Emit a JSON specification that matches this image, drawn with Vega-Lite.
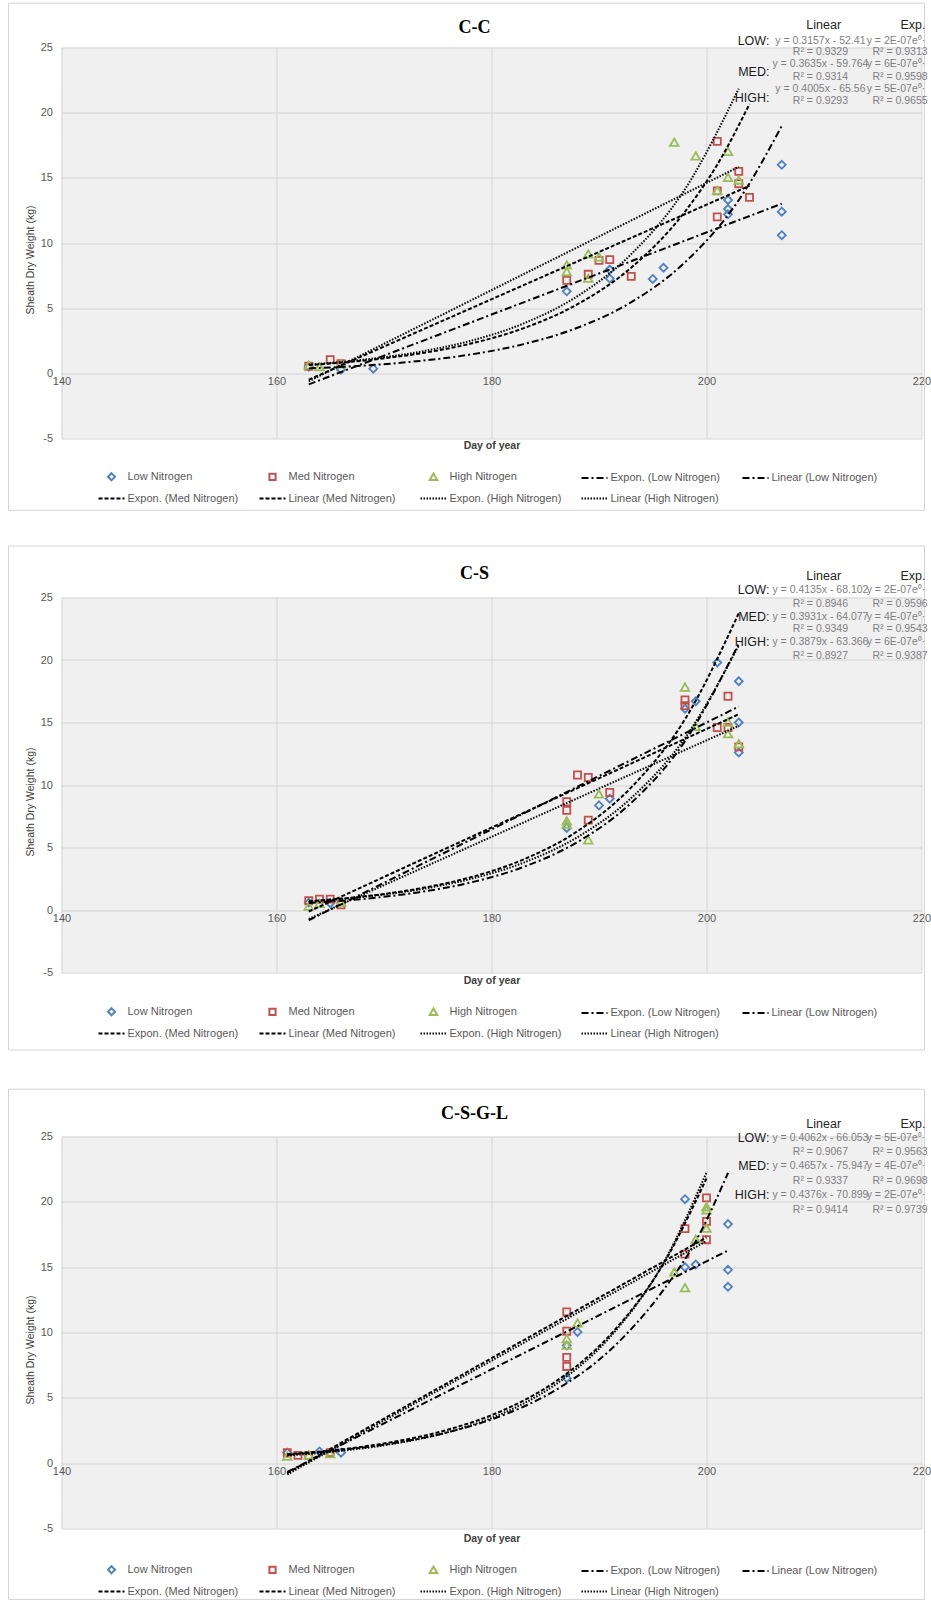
{
  "$schema": "https://vega.github.io/schema/vega-lite/v6.json",
  "padding": {"left": 7.5, "top": 2.5, "right": 0, "bottom": 0},
  "background": "white",
  "datasets": {
    "points": [
      {"panel":"C-C","series":"Low Nitrogen","trend":"Linear (Low Nitrogen)","day":163,"weight":0.5},
      {"panel":"C-C","series":"Low Nitrogen","trend":"Linear (Low Nitrogen)","day":166,"weight":0.28},
      {"panel":"C-C","series":"Low Nitrogen","trend":"Linear (Low Nitrogen)","day":169,"weight":0.36},
      {"panel":"C-C","series":"Low Nitrogen","trend":"Linear (Low Nitrogen)","day":187,"weight":6.29},
      {"panel":"C-C","series":"Low Nitrogen","trend":"Linear (Low Nitrogen)","day":191,"weight":7.96},
      {"panel":"C-C","series":"Low Nitrogen","trend":"Linear (Low Nitrogen)","day":191,"weight":7.27},
      {"panel":"C-C","series":"Low Nitrogen","trend":"Linear (Low Nitrogen)","day":195,"weight":7.24},
      {"panel":"C-C","series":"Low Nitrogen","trend":"Linear (Low Nitrogen)","day":196,"weight":8.1},
      {"panel":"C-C","series":"Low Nitrogen","trend":"Linear (Low Nitrogen)","day":202,"weight":13.3},
      {"panel":"C-C","series":"Low Nitrogen","trend":"Linear (Low Nitrogen)","day":202,"weight":12.6},
      {"panel":"C-C","series":"Low Nitrogen","trend":"Linear (Low Nitrogen)","day":202,"weight":12.2},
      {"panel":"C-C","series":"Low Nitrogen","trend":"Linear (Low Nitrogen)","day":207,"weight":16.0},
      {"panel":"C-C","series":"Low Nitrogen","trend":"Linear (Low Nitrogen)","day":207,"weight":12.4},
      {"panel":"C-C","series":"Low Nitrogen","trend":"Linear (Low Nitrogen)","day":207,"weight":10.6},
      {"panel":"C-C","series":"Med Nitrogen","trend":"Linear (Med Nitrogen)","day":163,"weight":0.54},
      {"panel":"C-C","series":"Med Nitrogen","trend":"Linear (Med Nitrogen)","day":165,"weight":1.05},
      {"panel":"C-C","series":"Med Nitrogen","trend":"Linear (Med Nitrogen)","day":166,"weight":0.74},
      {"panel":"C-C","series":"Med Nitrogen","trend":"Linear (Med Nitrogen)","day":187,"weight":7.14},
      {"panel":"C-C","series":"Med Nitrogen","trend":"Linear (Med Nitrogen)","day":189,"weight":7.6},
      {"panel":"C-C","series":"Med Nitrogen","trend":"Linear (Med Nitrogen)","day":190,"weight":8.67},
      {"panel":"C-C","series":"Med Nitrogen","trend":"Linear (Med Nitrogen)","day":191,"weight":8.72},
      {"panel":"C-C","series":"Med Nitrogen","trend":"Linear (Med Nitrogen)","day":193,"weight":7.44},
      {"panel":"C-C","series":"Med Nitrogen","trend":"Linear (Med Nitrogen)","day":201,"weight":17.8},
      {"panel":"C-C","series":"Med Nitrogen","trend":"Linear (Med Nitrogen)","day":201,"weight":14.0},
      {"panel":"C-C","series":"Med Nitrogen","trend":"Linear (Med Nitrogen)","day":201,"weight":12.0},
      {"panel":"C-C","series":"Med Nitrogen","trend":"Linear (Med Nitrogen)","day":203,"weight":15.5},
      {"panel":"C-C","series":"Med Nitrogen","trend":"Linear (Med Nitrogen)","day":203,"weight":14.55},
      {"panel":"C-C","series":"Med Nitrogen","trend":"Linear (Med Nitrogen)","day":204,"weight":13.5},
      {"panel":"C-C","series":"High Nitrogen","trend":"Linear (High Nitrogen)","day":163,"weight":0.6},
      {"panel":"C-C","series":"High Nitrogen","trend":"Linear (High Nitrogen)","day":164,"weight":0.48},
      {"panel":"C-C","series":"High Nitrogen","trend":"Linear (High Nitrogen)","day":166,"weight":0.7},
      {"panel":"C-C","series":"High Nitrogen","trend":"Linear (High Nitrogen)","day":187,"weight":8.29},
      {"panel":"C-C","series":"High Nitrogen","trend":"Linear (High Nitrogen)","day":187,"weight":7.78},
      {"panel":"C-C","series":"High Nitrogen","trend":"Linear (High Nitrogen)","day":189,"weight":9.13},
      {"panel":"C-C","series":"High Nitrogen","trend":"Linear (High Nitrogen)","day":189,"weight":7.27},
      {"panel":"C-C","series":"High Nitrogen","trend":"Linear (High Nitrogen)","day":190,"weight":8.9},
      {"panel":"C-C","series":"High Nitrogen","trend":"Linear (High Nitrogen)","day":197,"weight":17.7},
      {"panel":"C-C","series":"High Nitrogen","trend":"Linear (High Nitrogen)","day":199,"weight":16.65},
      {"panel":"C-C","series":"High Nitrogen","trend":"Linear (High Nitrogen)","day":201,"weight":14.0},
      {"panel":"C-C","series":"High Nitrogen","trend":"Linear (High Nitrogen)","day":202,"weight":17.0},
      {"panel":"C-C","series":"High Nitrogen","trend":"Linear (High Nitrogen)","day":202,"weight":15.0},
      {"panel":"C-C","series":"High Nitrogen","trend":"Linear (High Nitrogen)","day":203,"weight":14.8},

      {"panel":"C-S","series":"Low Nitrogen","trend":"Linear (Low Nitrogen)","day":163,"weight":0.6},
      {"panel":"C-S","series":"Low Nitrogen","trend":"Linear (Low Nitrogen)","day":165,"weight":0.55},
      {"panel":"C-S","series":"Low Nitrogen","trend":"Linear (Low Nitrogen)","day":187,"weight":6.57},
      {"panel":"C-S","series":"Low Nitrogen","trend":"Linear (Low Nitrogen)","day":190,"weight":8.37},
      {"panel":"C-S","series":"Low Nitrogen","trend":"Linear (Low Nitrogen)","day":191,"weight":8.9},
      {"panel":"C-S","series":"Low Nitrogen","trend":"Linear (Low Nitrogen)","day":198,"weight":16.1},
      {"panel":"C-S","series":"Low Nitrogen","trend":"Linear (Low Nitrogen)","day":199,"weight":16.7},
      {"panel":"C-S","series":"Low Nitrogen","trend":"Linear (Low Nitrogen)","day":201,"weight":19.8},
      {"panel":"C-S","series":"Low Nitrogen","trend":"Linear (Low Nitrogen)","day":203,"weight":18.3},
      {"panel":"C-S","series":"Low Nitrogen","trend":"Linear (Low Nitrogen)","day":203,"weight":15.0},
      {"panel":"C-S","series":"Low Nitrogen","trend":"Linear (Low Nitrogen)","day":203,"weight":12.6},
      {"panel":"C-S","series":"Med Nitrogen","trend":"Linear (Med Nitrogen)","day":163,"weight":0.74},
      {"panel":"C-S","series":"Med Nitrogen","trend":"Linear (Med Nitrogen)","day":164,"weight":0.87},
      {"panel":"C-S","series":"Med Nitrogen","trend":"Linear (Med Nitrogen)","day":165,"weight":0.87},
      {"panel":"C-S","series":"Med Nitrogen","trend":"Linear (Med Nitrogen)","day":166,"weight":0.42},
      {"panel":"C-S","series":"Med Nitrogen","trend":"Linear (Med Nitrogen)","day":187,"weight":8.66},
      {"panel":"C-S","series":"Med Nitrogen","trend":"Linear (Med Nitrogen)","day":187,"weight":7.97},
      {"panel":"C-S","series":"Med Nitrogen","trend":"Linear (Med Nitrogen)","day":188,"weight":10.8},
      {"panel":"C-S","series":"Med Nitrogen","trend":"Linear (Med Nitrogen)","day":189,"weight":10.6},
      {"panel":"C-S","series":"Med Nitrogen","trend":"Linear (Med Nitrogen)","day":189,"weight":7.19},
      {"panel":"C-S","series":"Med Nitrogen","trend":"Linear (Med Nitrogen)","day":191,"weight":9.4},
      {"panel":"C-S","series":"Med Nitrogen","trend":"Linear (Med Nitrogen)","day":198,"weight":16.8},
      {"panel":"C-S","series":"Med Nitrogen","trend":"Linear (Med Nitrogen)","day":198,"weight":16.35},
      {"panel":"C-S","series":"Med Nitrogen","trend":"Linear (Med Nitrogen)","day":201,"weight":14.6},
      {"panel":"C-S","series":"Med Nitrogen","trend":"Linear (Med Nitrogen)","day":202,"weight":17.1},
      {"panel":"C-S","series":"Med Nitrogen","trend":"Linear (Med Nitrogen)","day":202,"weight":14.6},
      {"panel":"C-S","series":"Med Nitrogen","trend":"Linear (Med Nitrogen)","day":203,"weight":13.05},
      {"panel":"C-S","series":"High Nitrogen","trend":"Linear (High Nitrogen)","day":163,"weight":0.28},
      {"panel":"C-S","series":"High Nitrogen","trend":"Linear (High Nitrogen)","day":164,"weight":0.5},
      {"panel":"C-S","series":"High Nitrogen","trend":"Linear (High Nitrogen)","day":166,"weight":0.6},
      {"panel":"C-S","series":"High Nitrogen","trend":"Linear (High Nitrogen)","day":187,"weight":7.1},
      {"panel":"C-S","series":"High Nitrogen","trend":"Linear (High Nitrogen)","day":187,"weight":6.84},
      {"panel":"C-S","series":"High Nitrogen","trend":"Linear (High Nitrogen)","day":189,"weight":5.58},
      {"panel":"C-S","series":"High Nitrogen","trend":"Linear (High Nitrogen)","day":190,"weight":9.25},
      {"panel":"C-S","series":"High Nitrogen","trend":"Linear (High Nitrogen)","day":198,"weight":17.8},
      {"panel":"C-S","series":"High Nitrogen","trend":"Linear (High Nitrogen)","day":199,"weight":14.66},
      {"panel":"C-S","series":"High Nitrogen","trend":"Linear (High Nitrogen)","day":202,"weight":15.0},
      {"panel":"C-S","series":"High Nitrogen","trend":"Linear (High Nitrogen)","day":202,"weight":14.07},
      {"panel":"C-S","series":"High Nitrogen","trend":"Linear (High Nitrogen)","day":203,"weight":13.27},

      {"panel":"C-S-G-L","series":"Low Nitrogen","trend":"Linear (Low Nitrogen)","day":161,"weight":0.8},
      {"panel":"C-S-G-L","series":"Low Nitrogen","trend":"Linear (Low Nitrogen)","day":164,"weight":0.9},
      {"panel":"C-S-G-L","series":"Low Nitrogen","trend":"Linear (Low Nitrogen)","day":166,"weight":0.8},
      {"panel":"C-S-G-L","series":"Low Nitrogen","trend":"Linear (Low Nitrogen)","day":187,"weight":9.0},
      {"panel":"C-S-G-L","series":"Low Nitrogen","trend":"Linear (Low Nitrogen)","day":187,"weight":6.5},
      {"panel":"C-S-G-L","series":"Low Nitrogen","trend":"Linear (Low Nitrogen)","day":188,"weight":10.04},
      {"panel":"C-S-G-L","series":"Low Nitrogen","trend":"Linear (Low Nitrogen)","day":198,"weight":20.2},
      {"panel":"C-S-G-L","series":"Low Nitrogen","trend":"Linear (Low Nitrogen)","day":198,"weight":15.0},
      {"panel":"C-S-G-L","series":"Low Nitrogen","trend":"Linear (Low Nitrogen)","day":199,"weight":15.2},
      {"panel":"C-S-G-L","series":"Low Nitrogen","trend":"Linear (Low Nitrogen)","day":202,"weight":18.3},
      {"panel":"C-S-G-L","series":"Low Nitrogen","trend":"Linear (Low Nitrogen)","day":202,"weight":14.8},
      {"panel":"C-S-G-L","series":"Low Nitrogen","trend":"Linear (Low Nitrogen)","day":202,"weight":13.5},
      {"panel":"C-S-G-L","series":"Med Nitrogen","trend":"Linear (Med Nitrogen)","day":161,"weight":0.8},
      {"panel":"C-S-G-L","series":"Med Nitrogen","trend":"Linear (Med Nitrogen)","day":162,"weight":0.6},
      {"panel":"C-S-G-L","series":"Med Nitrogen","trend":"Linear (Med Nitrogen)","day":163,"weight":0.6},
      {"panel":"C-S-G-L","series":"Med Nitrogen","trend":"Linear (Med Nitrogen)","day":165,"weight":0.8},
      {"panel":"C-S-G-L","series":"Med Nitrogen","trend":"Linear (Med Nitrogen)","day":187,"weight":11.57},
      {"panel":"C-S-G-L","series":"Med Nitrogen","trend":"Linear (Med Nitrogen)","day":187,"weight":10.1},
      {"panel":"C-S-G-L","series":"Med Nitrogen","trend":"Linear (Med Nitrogen)","day":187,"weight":8.1},
      {"panel":"C-S-G-L","series":"Med Nitrogen","trend":"Linear (Med Nitrogen)","day":187,"weight":7.4},
      {"panel":"C-S-G-L","series":"Med Nitrogen","trend":"Linear (Med Nitrogen)","day":198,"weight":17.95},
      {"panel":"C-S-G-L","series":"Med Nitrogen","trend":"Linear (Med Nitrogen)","day":198,"weight":16.0},
      {"panel":"C-S-G-L","series":"Med Nitrogen","trend":"Linear (Med Nitrogen)","day":200,"weight":20.3},
      {"panel":"C-S-G-L","series":"Med Nitrogen","trend":"Linear (Med Nitrogen)","day":200,"weight":18.5},
      {"panel":"C-S-G-L","series":"Med Nitrogen","trend":"Linear (Med Nitrogen)","day":200,"weight":17.1},
      {"panel":"C-S-G-L","series":"High Nitrogen","trend":"Linear (High Nitrogen)","day":161,"weight":0.5},
      {"panel":"C-S-G-L","series":"High Nitrogen","trend":"Linear (High Nitrogen)","day":163,"weight":0.6},
      {"panel":"C-S-G-L","series":"High Nitrogen","trend":"Linear (High Nitrogen)","day":165,"weight":0.7},
      {"panel":"C-S-G-L","series":"High Nitrogen","trend":"Linear (High Nitrogen)","day":187,"weight":9.5},
      {"panel":"C-S-G-L","series":"High Nitrogen","trend":"Linear (High Nitrogen)","day":187,"weight":9.0},
      {"panel":"C-S-G-L","series":"High Nitrogen","trend":"Linear (High Nitrogen)","day":188,"weight":10.7},
      {"panel":"C-S-G-L","series":"High Nitrogen","trend":"Linear (High Nitrogen)","day":197,"weight":14.6},
      {"panel":"C-S-G-L","series":"High Nitrogen","trend":"Linear (High Nitrogen)","day":198,"weight":13.4},
      {"panel":"C-S-G-L","series":"High Nitrogen","trend":"Linear (High Nitrogen)","day":199,"weight":17.1},
      {"panel":"C-S-G-L","series":"High Nitrogen","trend":"Linear (High Nitrogen)","day":200,"weight":19.6},
      {"panel":"C-S-G-L","series":"High Nitrogen","trend":"Linear (High Nitrogen)","day":200,"weight":19.36},
      {"panel":"C-S-G-L","series":"High Nitrogen","trend":"Linear (High Nitrogen)","day":200,"weight":17.95}
    ],
    "expfit": [
      {"panel":"C-C","series":"Expon. (Low Nitrogen)","day":163,"weight":0.378},
      {"panel":"C-C","series":"Expon. (Low Nitrogen)","day":168,"weight":0.59},
      {"panel":"C-C","series":"Expon. (Low Nitrogen)","day":173,"weight":0.921},
      {"panel":"C-C","series":"Expon. (Low Nitrogen)","day":178,"weight":1.437},
      {"panel":"C-C","series":"Expon. (Low Nitrogen)","day":183,"weight":2.242},
      {"panel":"C-C","series":"Expon. (Low Nitrogen)","day":188,"weight":3.498},
      {"panel":"C-C","series":"Expon. (Low Nitrogen)","day":193,"weight":5.459},
      {"panel":"C-C","series":"Expon. (Low Nitrogen)","day":198,"weight":8.519},
      {"panel":"C-C","series":"Expon. (Low Nitrogen)","day":203,"weight":13.29},
      {"panel":"C-C","series":"Expon. (Low Nitrogen)","day":207,"weight":18.98},
      {"panel":"C-C","series":"Expon. (Med Nitrogen)","day":163,"weight":0.633},
      {"panel":"C-C","series":"Expon. (Med Nitrogen)","day":168,"weight":0.969},
      {"panel":"C-C","series":"Expon. (Med Nitrogen)","day":173,"weight":1.482},
      {"panel":"C-C","series":"Expon. (Med Nitrogen)","day":178,"weight":2.266},
      {"panel":"C-C","series":"Expon. (Med Nitrogen)","day":183,"weight":3.466},
      {"panel":"C-C","series":"Expon. (Med Nitrogen)","day":188,"weight":5.302},
      {"panel":"C-C","series":"Expon. (Med Nitrogen)","day":193,"weight":8.11},
      {"panel":"C-C","series":"Expon. (Med Nitrogen)","day":198,"weight":12.41},
      {"panel":"C-C","series":"Expon. (Med Nitrogen)","day":201,"weight":16.01},
      {"panel":"C-C","series":"Expon. (Med Nitrogen)","day":204,"weight":20.66},
      {"panel":"C-C","series":"Expon. (High Nitrogen)","day":163,"weight":0.673},
      {"panel":"C-C","series":"Expon. (High Nitrogen)","day":168,"weight":1.039},
      {"panel":"C-C","series":"Expon. (High Nitrogen)","day":173,"weight":1.606},
      {"panel":"C-C","series":"Expon. (High Nitrogen)","day":178,"weight":2.481},
      {"panel":"C-C","series":"Expon. (High Nitrogen)","day":183,"weight":3.833},
      {"panel":"C-C","series":"Expon. (High Nitrogen)","day":188,"weight":5.921},
      {"panel":"C-C","series":"Expon. (High Nitrogen)","day":193,"weight":9.148},
      {"panel":"C-C","series":"Expon. (High Nitrogen)","day":198,"weight":14.13},
      {"panel":"C-C","series":"Expon. (High Nitrogen)","day":203,"weight":21.84},
      {"panel":"C-S","series":"Expon. (Low Nitrogen)","day":163,"weight":0.559},
      {"panel":"C-S","series":"Expon. (Low Nitrogen)","day":168,"weight":0.881},
      {"panel":"C-S","series":"Expon. (Low Nitrogen)","day":173,"weight":1.389},
      {"panel":"C-S","series":"Expon. (Low Nitrogen)","day":178,"weight":2.189},
      {"panel":"C-S","series":"Expon. (Low Nitrogen)","day":183,"weight":3.451},
      {"panel":"C-S","series":"Expon. (Low Nitrogen)","day":188,"weight":5.439},
      {"panel":"C-S","series":"Expon. (Low Nitrogen)","day":193,"weight":8.573},
      {"panel":"C-S","series":"Expon. (Low Nitrogen)","day":198,"weight":13.51},
      {"panel":"C-S","series":"Expon. (Low Nitrogen)","day":203,"weight":21.3},
      {"panel":"C-S","series":"Expon. (Med Nitrogen)","day":163,"weight":0.692},
      {"panel":"C-S","series":"Expon. (Med Nitrogen)","day":168,"weight":1.076},
      {"panel":"C-S","series":"Expon. (Med Nitrogen)","day":173,"weight":1.674},
      {"panel":"C-S","series":"Expon. (Med Nitrogen)","day":178,"weight":2.604},
      {"panel":"C-S","series":"Expon. (Med Nitrogen)","day":183,"weight":4.052},
      {"panel":"C-S","series":"Expon. (Med Nitrogen)","day":188,"weight":6.303},
      {"panel":"C-S","series":"Expon. (Med Nitrogen)","day":193,"weight":9.807},
      {"panel":"C-S","series":"Expon. (Med Nitrogen)","day":198,"weight":15.26},
      {"panel":"C-S","series":"Expon. (Med Nitrogen)","day":203,"weight":23.74},
      {"panel":"C-S","series":"Expon. (High Nitrogen)","day":163,"weight":0.681},
      {"panel":"C-S","series":"Expon. (High Nitrogen)","day":168,"weight":1.046},
      {"panel":"C-S","series":"Expon. (High Nitrogen)","day":173,"weight":1.607},
      {"panel":"C-S","series":"Expon. (High Nitrogen)","day":178,"weight":2.469},
      {"panel":"C-S","series":"Expon. (High Nitrogen)","day":183,"weight":3.794},
      {"panel":"C-S","series":"Expon. (High Nitrogen)","day":188,"weight":5.829},
      {"panel":"C-S","series":"Expon. (High Nitrogen)","day":193,"weight":8.957},
      {"panel":"C-S","series":"Expon. (High Nitrogen)","day":198,"weight":13.76},
      {"panel":"C-S","series":"Expon. (High Nitrogen)","day":203,"weight":21.15},
      {"panel":"C-S-G-L","series":"Expon. (Low Nitrogen)","day":161,"weight":0.647},
      {"panel":"C-S-G-L","series":"Expon. (Low Nitrogen)","day":166,"weight":1.005},
      {"panel":"C-S-G-L","series":"Expon. (Low Nitrogen)","day":171,"weight":1.544},
      {"panel":"C-S-G-L","series":"Expon. (Low Nitrogen)","day":176,"weight":2.374},
      {"panel":"C-S-G-L","series":"Expon. (Low Nitrogen)","day":181,"weight":3.65},
      {"panel":"C-S-G-L","series":"Expon. (Low Nitrogen)","day":186,"weight":5.61},
      {"panel":"C-S-G-L","series":"Expon. (Low Nitrogen)","day":191,"weight":8.624},
      {"panel":"C-S-G-L","series":"Expon. (Low Nitrogen)","day":196,"weight":13.26},
      {"panel":"C-S-G-L","series":"Expon. (Low Nitrogen)","day":199,"weight":16.99},
      {"panel":"C-S-G-L","series":"Expon. (Low Nitrogen)","day":202,"weight":22.21},
      {"panel":"C-S-G-L","series":"Expon. (Med Nitrogen)","day":161,"weight":0.677},
      {"panel":"C-S-G-L","series":"Expon. (Med Nitrogen)","day":166,"weight":1.057},
      {"panel":"C-S-G-L","series":"Expon. (Med Nitrogen)","day":171,"weight":1.65},
      {"panel":"C-S-G-L","series":"Expon. (Med Nitrogen)","day":176,"weight":2.574},
      {"panel":"C-S-G-L","series":"Expon. (Med Nitrogen)","day":181,"weight":4.017},
      {"panel":"C-S-G-L","series":"Expon. (Med Nitrogen)","day":186,"weight":6.268},
      {"panel":"C-S-G-L","series":"Expon. (Med Nitrogen)","day":191,"weight":9.782},
      {"panel":"C-S-G-L","series":"Expon. (Med Nitrogen)","day":196,"weight":15.27},
      {"panel":"C-S-G-L","series":"Expon. (Med Nitrogen)","day":200,"weight":21.79},
      {"panel":"C-S-G-L","series":"Expon. (High Nitrogen)","day":161,"weight":0.591},
      {"panel":"C-S-G-L","series":"Expon. (High Nitrogen)","day":166,"weight":0.941},
      {"panel":"C-S-G-L","series":"Expon. (High Nitrogen)","day":171,"weight":1.499},
      {"panel":"C-S-G-L","series":"Expon. (High Nitrogen)","day":176,"weight":2.386},
      {"panel":"C-S-G-L","series":"Expon. (High Nitrogen)","day":181,"weight":3.799},
      {"panel":"C-S-G-L","series":"Expon. (High Nitrogen)","day":186,"weight":6.047},
      {"panel":"C-S-G-L","series":"Expon. (High Nitrogen)","day":191,"weight":9.627},
      {"panel":"C-S-G-L","series":"Expon. (High Nitrogen)","day":196,"weight":15.33},
      {"panel":"C-S-G-L","series":"Expon. (High Nitrogen)","day":200,"weight":22.24}
    ]
  },
  "vconcat": [
    {
      "vconcat": [
        {
          "width": 860, "height": 391,
          "title": {"text": "C-C", "offset": -34, "dx": -17},
          "layer": [
            {"data": {"values": [{}]}, "mark": {"type": "rect", "filled": false, "color": "#d4d4d4", "strokeWidth": 1, "clip": false}, "encoding": {"x": {"datum": 135.07, "type": "quantitative", "scale": {"domain": [140, 220], "nice": false, "zero": false}}, "x2": {"datum": 220.28}, "y": {"datum": 28.4, "type": "quantitative", "scale": {"domain": [-5, 25], "nice": false, "zero": false}}, "y2": {"datum": -10.51}}},
            {"data": {"name": "points"}, "transform": [{"filter": "datum.panel === 'C-C'"}],
             "mark": {"type": "point", "filled": false, "size": 130, "strokeWidth": 1.8, "opacity": 1},
             "encoding": {
               "x": {"field": "day", "type": "quantitative", "scale": {"domain": [140, 220], "nice": false, "zero": false}, "axis": {"values": [140, 160, 180, 200, 220], "title": "Day of year", "offset": -65, "titlePadding": 55}},
               "y": {"field": "weight", "type": "quantitative", "scale": {"domain": [-5, 25], "nice": false, "zero": false}, "axis": {"values": [-5, 0, 5, 10, 15, 20, 25], "title": "Sheath Dry Weight (kg)", "titleY": 212, "labelExpr": "'' + datum.value"}},
               "color": {"field": "series", "type": "nominal", "scale": {"domain": ["Low Nitrogen","Med Nitrogen","High Nitrogen","Expon. (Low Nitrogen)","Linear (Low Nitrogen)","Expon. (Med Nitrogen)","Linear (Med Nitrogen)","Expon. (High Nitrogen)","Linear (High Nitrogen)"], "range": ["#4f81bd","#c0504d","#9bbb59","#000000","#000000","#000000","#000000","#000000","#000000"]},
                 "legend": {"title": null, "orient": "none", "legendX": 44, "legendY": 423, "direction": "horizontal", "columns": 5}},
               "shape": {"field": "series", "type": "nominal", "scale": {"domain": ["Low Nitrogen","Med Nitrogen","High Nitrogen","Expon. (Low Nitrogen)","Linear (Low Nitrogen)","Expon. (Med Nitrogen)","Linear (Med Nitrogen)","Expon. (High Nitrogen)","Linear (High Nitrogen)"], "range": ["M0,-0.7L0.7,0L0,0.7L-0.7,0Z","M-0.62,-0.62H0.62V0.62H-0.62Z","M0,-0.72L0.75,0.58H-0.75Z","M-2.6,0H2.6","M-2.6,0H2.6","M-2.6,0H2.6","M-2.6,0H2.6","M-2.6,0H2.6","M-2.6,0H2.6"]},
                 "legend": {"title": null, "orient": "none", "legendX": 44, "legendY": 423, "direction": "horizontal", "columns": 5}}
             }},
            {"data": {"name": "expfit"}, "transform": [{"filter": "datum.panel === 'C-C'"}],
             "mark": {"type": "line", "interpolate": "monotone"},
             "encoding": {
               "x": {"field": "day", "type": "quantitative"},
               "y": {"field": "weight", "type": "quantitative"},
               "color": {"field": "series", "type": "nominal"},
               "strokeDash": {"field": "series", "type": "nominal", "scale": {"domain": ["Low Nitrogen","Med Nitrogen","High Nitrogen","Expon. (Low Nitrogen)","Linear (Low Nitrogen)","Expon. (Med Nitrogen)","Linear (Med Nitrogen)","Expon. (High Nitrogen)","Linear (High Nitrogen)"], "range": [[1,0],[1,0],[1,0],[7,3,2,3],[7,3,2,3],[4,2],[4,2],[1.5,1.5],[1.5,1.5]]},
                 "legend": {"title": null, "orient": "none", "legendX": 44, "legendY": 423, "direction": "horizontal", "columns": 5}},
               "strokeWidth": {"field": "series", "type": "nominal", "scale": {"domain": ["Low Nitrogen","Med Nitrogen","High Nitrogen","Expon. (Low Nitrogen)","Linear (Low Nitrogen)","Expon. (Med Nitrogen)","Linear (Med Nitrogen)","Expon. (High Nitrogen)","Linear (High Nitrogen)"], "range": [2,2,2,2,2,2,2,1.5,1.5]}, "legend": null}
             }},
            {"data": {"name": "points"}, "transform": [{"filter": "datum.panel === 'C-C'"}, {"regression": "weight", "on": "day", "groupby": ["trend"]}],
             "mark": {"type": "line"},
             "encoding": {
               "x": {"field": "day", "type": "quantitative"},
               "y": {"field": "weight", "type": "quantitative"},
               "color": {"field": "trend", "type": "nominal"},
               "strokeDash": {"field": "trend", "type": "nominal"},
               "strokeWidth": {"field": "trend", "type": "nominal", "legend": null}
             }},
            {"data": {"values": [{}]}, "mark": {"type": "text", "text": "Linear", "font": "Liberation Sans", "fontSize": 12.5, "color": "#262626", "align": "center", "baseline": "middle"}, "encoding": {"x": {"datum": 210.9}, "y": {"datum": 26.7}}},
            {"data": {"values": [{}]}, "mark": {"type": "text", "text": "Exp.", "font": "Liberation Sans", "fontSize": 12.5, "color": "#262626", "align": "left", "baseline": "middle"}, "encoding": {"x": {"datum": 218.05}, "y": {"datum": 26.7}}},
            {"data": {"values": [{}]}, "mark": {"type": "text", "text": "LOW:", "font": "Liberation Sans", "fontSize": 12.5, "color": "#1a1a1a", "align": "right", "baseline": "middle"}, "encoding": {"x": {"datum": 205.85}, "y": {"datum": 25.5}}},
            {"data": {"values": [{}]}, "mark": {"type": "text", "text": "MED:", "font": "Liberation Sans", "fontSize": 12.5, "color": "#1a1a1a", "align": "right", "baseline": "middle"}, "encoding": {"x": {"datum": 205.85}, "y": {"datum": 23.1}}},
            {"data": {"values": [{}]}, "mark": {"type": "text", "text": "HIGH:", "font": "Liberation Sans", "fontSize": 12.5, "color": "#1a1a1a", "align": "right", "baseline": "middle"}, "encoding": {"x": {"datum": 205.85}, "y": {"datum": 21.1}}},
            {"data": {"values": [{}]}, "mark": {"type": "text", "text": "y = 0.3157x - 52.41", "align": "center", "baseline": "middle"}, "encoding": {"x": {"datum": 210.6}, "y": {"datum": 25.5}}},
            {"data": {"values": [{}]}, "mark": {"type": "text", "text": "R² = 0.9329", "align": "center", "baseline": "middle"}, "encoding": {"x": {"datum": 210.6}, "y": {"datum": 24.66}}},
            {"data": {"values": [{}]}, "mark": {"type": "text", "text": "y = 0.3635x - 59.764", "align": "center", "baseline": "middle"}, "encoding": {"x": {"datum": 210.6}, "y": {"datum": 23.75}}},
            {"data": {"values": [{}]}, "mark": {"type": "text", "text": "R² = 0.9314", "align": "center", "baseline": "middle"}, "encoding": {"x": {"datum": 210.6}, "y": {"datum": 22.74}}},
            {"data": {"values": [{}]}, "mark": {"type": "text", "text": "y = 0.4005x - 65.56", "align": "center", "baseline": "middle"}, "encoding": {"x": {"datum": 210.6}, "y": {"datum": 21.85}}},
            {"data": {"values": [{}]}, "mark": {"type": "text", "text": "R² = 0.9293", "align": "center", "baseline": "middle"}, "encoding": {"x": {"datum": 210.6}, "y": {"datum": 20.9}}},
            {"data": {"values": [{}]}, "mark": {"type": "text", "text": "y = 2E-07e⁰·⁰⁸⁸ˣ", "align": "left", "baseline": "middle", "limit": 64, "ellipsis": " "}, "encoding": {"x": {"datum": 214.9}, "y": {"datum": 25.5}}},
            {"data": {"values": [{}]}, "mark": {"type": "text", "text": "R² = 0.9313", "align": "center", "baseline": "middle"}, "encoding": {"x": {"datum": 218.0}, "y": {"datum": 24.66}}},
            {"data": {"values": [{}]}, "mark": {"type": "text", "text": "y = 6E-07e⁰·⁰⁸⁵ˣ", "align": "left", "baseline": "middle", "limit": 64, "ellipsis": " "}, "encoding": {"x": {"datum": 214.9}, "y": {"datum": 23.75}}},
            {"data": {"values": [{}]}, "mark": {"type": "text", "text": "R² = 0.9598", "align": "center", "baseline": "middle"}, "encoding": {"x": {"datum": 218.0}, "y": {"datum": 22.74}}},
            {"data": {"values": [{}]}, "mark": {"type": "text", "text": "y = 5E-07e⁰·⁰⁸⁷ˣ", "align": "left", "baseline": "middle", "limit": 64, "ellipsis": " "}, "encoding": {"x": {"datum": 214.9}, "y": {"datum": 21.85}}},
            {"data": {"values": [{}]}, "mark": {"type": "text", "text": "R² = 0.9655", "align": "center", "baseline": "middle"}, "encoding": {"x": {"datum": 218.0}, "y": {"datum": 20.9}}}
          ]
        },
        {
          "width": 860, "height": 375,
          "title": {"text": "C-S", "offset": -37.5, "dx": -17},
          "layer": [
            {"data": {"values": [{}]}, "mark": {"type": "rect", "filled": false, "color": "#d4d4d4", "strokeWidth": 1, "clip": false}, "encoding": {"x": {"datum": 135.07, "type": "quantitative", "scale": {"domain": [140, 220], "nice": false, "zero": false}}, "x2": {"datum": 220.28}, "y": {"datum": 29.12, "type": "quantitative", "scale": {"domain": [-5, 25], "nice": false, "zero": false}}, "y2": {"datum": -11.2}}},
            {"data": {"name": "points"}, "transform": [{"filter": "datum.panel === 'C-S'"}],
             "mark": {"type": "point", "filled": false, "size": 130, "strokeWidth": 1.8, "opacity": 1},
             "encoding": {
               "x": {"field": "day", "type": "quantitative", "scale": {"domain": [140, 220], "nice": false, "zero": false}, "axis": {"values": [140, 160, 180, 200, 220], "title": "Day of year", "offset": -62.5, "titlePadding": 53.5}},
               "y": {"field": "weight", "type": "quantitative", "scale": {"domain": [-5, 25], "nice": false, "zero": false}, "axis": {"values": [-5, 0, 5, 10, 15, 20, 25], "title": "Sheath Dry Weight (kg)", "titleY": 204, "labelExpr": "'' + datum.value"}},
               "color": {"field": "series", "type": "nominal", "scale": {"domain": ["Low Nitrogen","Med Nitrogen","High Nitrogen","Expon. (Low Nitrogen)","Linear (Low Nitrogen)","Expon. (Med Nitrogen)","Linear (Med Nitrogen)","Expon. (High Nitrogen)","Linear (High Nitrogen)"], "range": ["#4f81bd","#c0504d","#9bbb59","#000000","#000000","#000000","#000000","#000000","#000000"]},
                 "legend": {"title": null, "orient": "none", "legendX": 44, "legendY": 408, "direction": "horizontal", "columns": 5}},
               "shape": {"field": "series", "type": "nominal", "scale": {"domain": ["Low Nitrogen","Med Nitrogen","High Nitrogen","Expon. (Low Nitrogen)","Linear (Low Nitrogen)","Expon. (Med Nitrogen)","Linear (Med Nitrogen)","Expon. (High Nitrogen)","Linear (High Nitrogen)"], "range": ["M0,-0.7L0.7,0L0,0.7L-0.7,0Z","M-0.62,-0.62H0.62V0.62H-0.62Z","M0,-0.72L0.75,0.58H-0.75Z","M-2.6,0H2.6","M-2.6,0H2.6","M-2.6,0H2.6","M-2.6,0H2.6","M-2.6,0H2.6","M-2.6,0H2.6"]},
                 "legend": {"title": null, "orient": "none", "legendX": 44, "legendY": 408, "direction": "horizontal", "columns": 5}}
             }},
            {"data": {"name": "expfit"}, "transform": [{"filter": "datum.panel === 'C-S'"}],
             "mark": {"type": "line", "interpolate": "monotone"},
             "encoding": {
               "x": {"field": "day", "type": "quantitative"},
               "y": {"field": "weight", "type": "quantitative"},
               "color": {"field": "series", "type": "nominal"},
               "strokeDash": {"field": "series", "type": "nominal", "scale": {"domain": ["Low Nitrogen","Med Nitrogen","High Nitrogen","Expon. (Low Nitrogen)","Linear (Low Nitrogen)","Expon. (Med Nitrogen)","Linear (Med Nitrogen)","Expon. (High Nitrogen)","Linear (High Nitrogen)"], "range": [[1,0],[1,0],[1,0],[7,3,2,3],[7,3,2,3],[4,2],[4,2],[1.5,1.5],[1.5,1.5]]},
                 "legend": {"title": null, "orient": "none", "legendX": 44, "legendY": 408, "direction": "horizontal", "columns": 5}},
               "strokeWidth": {"field": "series", "type": "nominal", "scale": {"domain": ["Low Nitrogen","Med Nitrogen","High Nitrogen","Expon. (Low Nitrogen)","Linear (Low Nitrogen)","Expon. (Med Nitrogen)","Linear (Med Nitrogen)","Expon. (High Nitrogen)","Linear (High Nitrogen)"], "range": [2,2,2,2,2,2,2,1.5,1.5]}, "legend": null}
             }},
            {"data": {"name": "points"}, "transform": [{"filter": "datum.panel === 'C-S'"}, {"regression": "weight", "on": "day", "groupby": ["trend"]}],
             "mark": {"type": "line"},
             "encoding": {
               "x": {"field": "day", "type": "quantitative"},
               "y": {"field": "weight", "type": "quantitative"},
               "color": {"field": "trend", "type": "nominal"},
               "strokeDash": {"field": "trend", "type": "nominal"},
               "strokeWidth": {"field": "trend", "type": "nominal", "legend": null}
             }},
            {"data": {"values": [{}]}, "mark": {"type": "text", "text": "Linear", "font": "Liberation Sans", "fontSize": 12.5, "color": "#262626", "align": "center", "baseline": "middle"}, "encoding": {"x": {"datum": 210.9}, "y": {"datum": 26.7}}},
            {"data": {"values": [{}]}, "mark": {"type": "text", "text": "Exp.", "font": "Liberation Sans", "fontSize": 12.5, "color": "#262626", "align": "left", "baseline": "middle"}, "encoding": {"x": {"datum": 218.05}, "y": {"datum": 26.7}}},
            {"data": {"values": [{}]}, "mark": {"type": "text", "text": "LOW:", "font": "Liberation Sans", "fontSize": 12.5, "color": "#1a1a1a", "align": "right", "baseline": "middle"}, "encoding": {"x": {"datum": 205.85}, "y": {"datum": 25.58}}},
            {"data": {"values": [{}]}, "mark": {"type": "text", "text": "MED:", "font": "Liberation Sans", "fontSize": 12.5, "color": "#1a1a1a", "align": "right", "baseline": "middle"}, "encoding": {"x": {"datum": 205.85}, "y": {"datum": 23.41}}},
            {"data": {"values": [{}]}, "mark": {"type": "text", "text": "HIGH:", "font": "Liberation Sans", "fontSize": 12.5, "color": "#1a1a1a", "align": "right", "baseline": "middle"}, "encoding": {"x": {"datum": 205.85}, "y": {"datum": 21.41}}},
            {"data": {"values": [{}]}, "mark": {"type": "text", "text": "y = 0.4135x - 68.102", "align": "center", "baseline": "middle"}, "encoding": {"x": {"datum": 210.6}, "y": {"datum": 25.58}}},
            {"data": {"values": [{}]}, "mark": {"type": "text", "text": "R² = 0.8946", "align": "center", "baseline": "middle"}, "encoding": {"x": {"datum": 210.6}, "y": {"datum": 24.46}}},
            {"data": {"values": [{}]}, "mark": {"type": "text", "text": "y = 0.3931x - 64.077", "align": "center", "baseline": "middle"}, "encoding": {"x": {"datum": 210.6}, "y": {"datum": 23.41}}},
            {"data": {"values": [{}]}, "mark": {"type": "text", "text": "R² = 0.9349", "align": "center", "baseline": "middle"}, "encoding": {"x": {"datum": 210.6}, "y": {"datum": 22.45}}},
            {"data": {"values": [{}]}, "mark": {"type": "text", "text": "y = 0.3879x - 63.366", "align": "center", "baseline": "middle"}, "encoding": {"x": {"datum": 210.6}, "y": {"datum": 21.41}}},
            {"data": {"values": [{}]}, "mark": {"type": "text", "text": "R² = 0.8927", "align": "center", "baseline": "middle"}, "encoding": {"x": {"datum": 210.6}, "y": {"datum": 20.36}}},
            {"data": {"values": [{}]}, "mark": {"type": "text", "text": "y = 2E-07e⁰·⁰⁹¹ˣ", "align": "left", "baseline": "middle", "limit": 64, "ellipsis": " "}, "encoding": {"x": {"datum": 214.9}, "y": {"datum": 25.58}}},
            {"data": {"values": [{}]}, "mark": {"type": "text", "text": "R² = 0.9596", "align": "center", "baseline": "middle"}, "encoding": {"x": {"datum": 218.0}, "y": {"datum": 24.46}}},
            {"data": {"values": [{}]}, "mark": {"type": "text", "text": "y = 4E-07e⁰·⁰⁸⁸⁴ˣ", "align": "left", "baseline": "middle", "limit": 64, "ellipsis": " "}, "encoding": {"x": {"datum": 214.9}, "y": {"datum": 23.41}}},
            {"data": {"values": [{}]}, "mark": {"type": "text", "text": "R² = 0.9543", "align": "center", "baseline": "middle"}, "encoding": {"x": {"datum": 218.0}, "y": {"datum": 22.45}}},
            {"data": {"values": [{}]}, "mark": {"type": "text", "text": "y = 6E-07e⁰·⁰⁸⁵⁹ˣ", "align": "left", "baseline": "middle", "limit": 64, "ellipsis": " "}, "encoding": {"x": {"datum": 214.9}, "y": {"datum": 21.41}}},
            {"data": {"values": [{}]}, "mark": {"type": "text", "text": "R² = 0.9387", "align": "center", "baseline": "middle"}, "encoding": {"x": {"datum": 218.0}, "y": {"datum": 20.36}}}
          ]
        }
      ],
      "spacing": 33,
      "resolve": {"scale": {"color": "independent", "shape": "independent", "strokeDash": "independent", "strokeWidth": "independent", "x": "independent", "y": "independent"}, "legend": {"color": "independent", "shape": "independent", "strokeDash": "independent"}}
    },
    {
      "width": 860, "height": 392,
      "title": {"text": "C-S-G-L", "offset": -34, "dx": -17},
      "layer": [
        {"data": {"values": [{}]}, "mark": {"type": "rect", "filled": false, "color": "#d4d4d4", "strokeWidth": 1, "clip": false}, "encoding": {"x": {"datum": 135.07, "type": "quantitative", "scale": {"domain": [140, 220], "nice": false, "zero": false}}, "x2": {"datum": 220.28}, "y": {"datum": 28.62, "type": "quantitative", "scale": {"domain": [-5, 25], "nice": false, "zero": false}}, "y2": {"datum": -10.43}}},
        {"data": {"name": "points"}, "transform": [{"filter": "datum.panel === 'C-S-G-L'"}],
         "mark": {"type": "point", "filled": false, "size": 130, "strokeWidth": 1.8, "opacity": 1},
         "encoding": {
           "x": {"field": "day", "type": "quantitative", "scale": {"domain": [140, 220], "nice": false, "zero": false}, "axis": {"values": [140, 160, 180, 200, 220], "title": "Day of year", "offset": -65.3, "titlePadding": 58.7}},
           "y": {"field": "weight", "type": "quantitative", "scale": {"domain": [-5, 25], "nice": false, "zero": false}, "axis": {"values": [-5, 0, 5, 10, 15, 20, 25], "title": "Sheath Dry Weight (kg)", "titleY": 213, "labelExpr": "'' + datum.value"}},
           "color": {"field": "series", "type": "nominal", "scale": {"domain": ["Low Nitrogen","Med Nitrogen","High Nitrogen","Expon. (Low Nitrogen)","Linear (Low Nitrogen)","Expon. (Med Nitrogen)","Linear (Med Nitrogen)","Expon. (High Nitrogen)","Linear (High Nitrogen)"], "range": ["#4f81bd","#c0504d","#9bbb59","#000000","#000000","#000000","#000000","#000000","#000000"]},
             "legend": {"title": null, "orient": "none", "legendX": 44, "legendY": 427, "direction": "horizontal", "columns": 5}},
           "shape": {"field": "series", "type": "nominal", "scale": {"domain": ["Low Nitrogen","Med Nitrogen","High Nitrogen","Expon. (Low Nitrogen)","Linear (Low Nitrogen)","Expon. (Med Nitrogen)","Linear (Med Nitrogen)","Expon. (High Nitrogen)","Linear (High Nitrogen)"], "range": ["M0,-0.7L0.7,0L0,0.7L-0.7,0Z","M-0.62,-0.62H0.62V0.62H-0.62Z","M0,-0.72L0.75,0.58H-0.75Z","M-2.6,0H2.6","M-2.6,0H2.6","M-2.6,0H2.6","M-2.6,0H2.6","M-2.6,0H2.6","M-2.6,0H2.6"]},
             "legend": {"title": null, "orient": "none", "legendX": 44, "legendY": 427, "direction": "horizontal", "columns": 5}}
         }},
        {"data": {"name": "expfit"}, "transform": [{"filter": "datum.panel === 'C-S-G-L'"}],
         "mark": {"type": "line", "interpolate": "monotone"},
         "encoding": {
           "x": {"field": "day", "type": "quantitative"},
           "y": {"field": "weight", "type": "quantitative"},
           "color": {"field": "series", "type": "nominal"},
           "strokeDash": {"field": "series", "type": "nominal", "scale": {"domain": ["Low Nitrogen","Med Nitrogen","High Nitrogen","Expon. (Low Nitrogen)","Linear (Low Nitrogen)","Expon. (Med Nitrogen)","Linear (Med Nitrogen)","Expon. (High Nitrogen)","Linear (High Nitrogen)"], "range": [[1,0],[1,0],[1,0],[7,3,2,3],[7,3,2,3],[4,2],[4,2],[1.5,1.5],[1.5,1.5]]},
             "legend": {"title": null, "orient": "none", "legendX": 44, "legendY": 427, "direction": "horizontal", "columns": 5}},
           "strokeWidth": {"field": "series", "type": "nominal", "scale": {"domain": ["Low Nitrogen","Med Nitrogen","High Nitrogen","Expon. (Low Nitrogen)","Linear (Low Nitrogen)","Expon. (Med Nitrogen)","Linear (Med Nitrogen)","Expon. (High Nitrogen)","Linear (High Nitrogen)"], "range": [2,2,2,2,2,2,2,1.5,1.5]}, "legend": null}
         }},
        {"data": {"name": "points"}, "transform": [{"filter": "datum.panel === 'C-S-G-L'"}, {"regression": "weight", "on": "day", "groupby": ["trend"]}],
         "mark": {"type": "line"},
         "encoding": {
           "x": {"field": "day", "type": "quantitative"},
           "y": {"field": "weight", "type": "quantitative"},
           "color": {"field": "trend", "type": "nominal"},
           "strokeDash": {"field": "trend", "type": "nominal"},
           "strokeWidth": {"field": "trend", "type": "nominal", "legend": null}
         }},
        {"data": {"values": [{}]}, "mark": {"type": "text", "text": "Linear", "font": "Liberation Sans", "fontSize": 12.5, "color": "#262626", "align": "center", "baseline": "middle"}, "encoding": {"x": {"datum": 210.9}, "y": {"datum": 25.94}}},
        {"data": {"values": [{}]}, "mark": {"type": "text", "text": "Exp.", "font": "Liberation Sans", "fontSize": 12.5, "color": "#262626", "align": "left", "baseline": "middle"}, "encoding": {"x": {"datum": 218.05}, "y": {"datum": 25.94}}},
        {"data": {"values": [{}]}, "mark": {"type": "text", "text": "LOW:", "font": "Liberation Sans", "fontSize": 12.5, "color": "#1a1a1a", "align": "right", "baseline": "middle"}, "encoding": {"x": {"datum": 205.85}, "y": {"datum": 24.87}}},
        {"data": {"values": [{}]}, "mark": {"type": "text", "text": "MED:", "font": "Liberation Sans", "fontSize": 12.5, "color": "#1a1a1a", "align": "right", "baseline": "middle"}, "encoding": {"x": {"datum": 205.85}, "y": {"datum": 22.73}}},
        {"data": {"values": [{}]}, "mark": {"type": "text", "text": "HIGH:", "font": "Liberation Sans", "fontSize": 12.5, "color": "#1a1a1a", "align": "right", "baseline": "middle"}, "encoding": {"x": {"datum": 205.85}, "y": {"datum": 20.5}}},
        {"data": {"values": [{}]}, "mark": {"type": "text", "text": "y = 0.4062x - 66.053", "align": "center", "baseline": "middle"}, "encoding": {"x": {"datum": 210.6}, "y": {"datum": 24.87}}},
        {"data": {"values": [{}]}, "mark": {"type": "text", "text": "R² = 0.9067", "align": "center", "baseline": "middle"}, "encoding": {"x": {"datum": 210.6}, "y": {"datum": 23.82}}},
        {"data": {"values": [{}]}, "mark": {"type": "text", "text": "y = 0.4657x - 75.947", "align": "center", "baseline": "middle"}, "encoding": {"x": {"datum": 210.6}, "y": {"datum": 22.73}}},
        {"data": {"values": [{}]}, "mark": {"type": "text", "text": "R² = 0.9337", "align": "center", "baseline": "middle"}, "encoding": {"x": {"datum": 210.6}, "y": {"datum": 21.6}}},
        {"data": {"values": [{}]}, "mark": {"type": "text", "text": "y = 0.4376x - 70.899", "align": "center", "baseline": "middle"}, "encoding": {"x": {"datum": 210.6}, "y": {"datum": 20.5}}},
        {"data": {"values": [{}]}, "mark": {"type": "text", "text": "R² = 0.9414", "align": "center", "baseline": "middle"}, "encoding": {"x": {"datum": 210.6}, "y": {"datum": 19.38}}},
        {"data": {"values": [{}]}, "mark": {"type": "text", "text": "y = 5E-07e⁰·⁰⁸⁶ˣ", "align": "left", "baseline": "middle", "limit": 64, "ellipsis": " "}, "encoding": {"x": {"datum": 214.9}, "y": {"datum": 24.87}}},
        {"data": {"values": [{}]}, "mark": {"type": "text", "text": "R² = 0.9563", "align": "center", "baseline": "middle"}, "encoding": {"x": {"datum": 218.0}, "y": {"datum": 23.82}}},
        {"data": {"values": [{}]}, "mark": {"type": "text", "text": "y = 4E-07e⁰·⁰⁸⁹ˣ", "align": "left", "baseline": "middle", "limit": 64, "ellipsis": " "}, "encoding": {"x": {"datum": 214.9}, "y": {"datum": 22.73}}},
        {"data": {"values": [{}]}, "mark": {"type": "text", "text": "R² = 0.9698", "align": "center", "baseline": "middle"}, "encoding": {"x": {"datum": 218.0}, "y": {"datum": 21.6}}},
        {"data": {"values": [{}]}, "mark": {"type": "text", "text": "y = 2E-07e⁰·⁰⁹³ˣ", "align": "left", "baseline": "middle", "limit": 64, "ellipsis": " "}, "encoding": {"x": {"datum": 214.9}, "y": {"datum": 20.5}}},
        {"data": {"values": [{}]}, "mark": {"type": "text", "text": "R² = 0.9739", "align": "center", "baseline": "middle"}, "encoding": {"x": {"datum": 218.0}, "y": {"datum": 19.38}}}
      ]
    }
  ],
  "spacing": 38,
  "resolve": {"scale": {"color": "independent", "shape": "independent", "strokeDash": "independent", "strokeWidth": "independent", "x": "independent", "y": "independent"}, "legend": {"color": "independent", "shape": "independent", "strokeDash": "independent"}},
  "config": {
    "view": {"stroke": null, "fill": "#f0f0f0"},
    "title": {"font": "Liberation Serif", "fontSize": 18, "fontWeight": "bold", "color": "#000000", "anchor": "middle"},
    "axis": {"grid": true, "gridColor": "#d4d4d4", "gridWidth": 1, "domain": false, "ticks": false, "labelFont": "Liberation Sans Narrow, Liberation Sans, sans-serif", "labelFontSize": 11, "labelColor": "#595959", "titleFont": "Liberation Sans Narrow, Liberation Sans, sans-serif", "titleFontSize": 10.5, "titleColor": "#404040", "labelOverlap": false},
    "axisX": {"labelPadding": 2, "minExtent": 12, "maxExtent": 12, "titleFontWeight": "bold", "labelFlush": false},
    "axisY": {"labelPadding": 9, "minExtent": 20, "maxExtent": 20, "titlePadding": 6, "titleFontWeight": "normal"},
    "legend": {"gridAlign": "all", "columnPadding": 16, "rowPadding": 8, "symbolSize": 100, "symbolStrokeWidth": 2, "labelFont": "Liberation Sans Narrow, Liberation Sans, sans-serif", "labelFontSize": 11, "labelColor": "#595959", "labelOffset": 10, "padding": 0, "labelLimit": 300},
    "text": {"font": "Liberation Sans Narrow, Liberation Sans, sans-serif", "fontSize": 10.5, "color": "#7f7f7f", "clip": false}
  }
}
